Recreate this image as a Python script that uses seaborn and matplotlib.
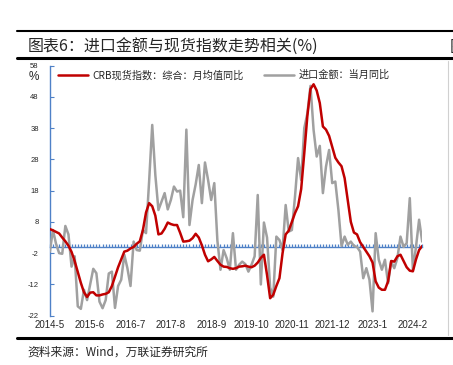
import numpy as np
import pandas as pd
import seaborn as sns
import matplotlib.pyplot as plt

# CRB现货指数：综合：月均值同比 (%), 2014-5 起逐月
crb = [5.7, 5.3, 4.8, 4.3, 3.0, 1.8, 0.4, -1.6, -4.5, -8.0,
       -11.5, -14.5, -16.0, -14.6, -14.5, -15.5, -15.5, -15.2, -15.0, -14.5,
       -12.5, -9.5, -6.5, -4.0, -1.5, -1.2, -0.5, 0.0, 1.0, 1.8,
       5.4, 11.0, 14.0, 13.0, 10.0, 4.0, 4.3, 5.8, 7.8, 7.3,
       7.0, 7.0, 4.5, 1.7, 1.8, 2.0, 2.8, 4.2, 3.0, 0.5,
       -2.5, -4.6, -4.0, -3.2, -4.5, -5.7, -6.3, -6.4, -6.8, -7.0,
       -6.8, -6.3, -6.2, -6.0, -6.3, -6.5, -6.0, -5.0, -3.5, -2.5,
       -9.0, -16.4, -15.3, -12.5, -10.0, -2.0, 4.0, 5.2, 8.0, 10.8,
       13.0, 18.5, 30.0, 42.0, 50.5, 52.0, 50.0, 46.0, 38.5, 37.5,
       35.5, 32.0, 28.5, 27.0, 25.8, 22.0, 15.0, 8.0, 4.6, 4.0,
       1.5, 0.0, -1.5, -3.0, -5.0, -11.0, -13.0, -13.7, -13.7, -11.0,
       -4.5, -4.7, -3.0, -2.5, -4.5, -6.5, -7.6, -7.8, -4.0, -1.0,
       0.3]

# 进口金额：当月同比 (%)
imports = [-1.5, 5.4, 1.0, -2.0, -2.2, 6.7, 4.0, -6.3, -3.0, -19.0,
           -19.8, -13.7, -17.0, -12.0, -7.0, -8.4, -17.5, -19.6, -17.0, -8.5,
           -7.9, -19.5, -12.5, -10.5, -2.5, -6.8, -12.5, 1.7, -1.0, -1.2,
           5.4, 4.4, 21.0, 39.0, 23.0, 11.8, 14.5, 17.2, 12.0, 15.0,
           19.3, 17.7, 18.0, 9.5, 37.5, 7.0, 15.0, 20.0, 26.2, 14.0,
           27.0, 21.4, 15.0, 20.4, 2.0, -7.3, -1.0, -3.6, -7.3, 4.4,
           -7.3, -5.7, -4.7, -5.5, -7.9, -5.7, -3.0, 16.6, -12.0, 7.8,
           3.0, -13.0, -15.9, 3.3, 2.2, -1.0, 13.4, 4.9, 5.4, 16.0,
           28.4, 21.4, 38.0, 42.7, 51.5, 37.4, 28.9, 32.3, 17.2, 25.7,
           31.0, 20.4, 20.9, 11.8, 0.3, 3.3, 0.7, 1.7, 0.3, 0.0,
           -1.5, -10.0, -6.8, -10.5, -20.6, 4.4, -4.1, -7.3, -4.1, -11.6,
           -4.7, -6.8, -3.6, 3.3, 0.0, 1.2, 15.6, -7.3, 0.0, 8.7,
           1.7]

tick_labels = ["2014-5", "2015-6", "2016-7", "2017-8", "2018-9",
               "2019-10", "2020-11", "2021-12", "2023-1", "2024-2"]
y_ticks = [58, 48, 38, 28, 18, 8, -2, -12, -22]

months = pd.period_range("2014-05", periods=len(crb), freq="M")
month_str = [f"{p.year}-{p.month}" for p in months]
df = pd.DataFrame({"x": np.arange(len(crb)), "crb": crb, "imp": imports})

sns.set_style("white")
plt.rcParams['font.family'] = ['Noto Sans CJK SC', 'DejaVu Sans']

fig = plt.figure(figsize=(4.53, 3.65), dpi=100)
ax = fig.add_axes([0.110, 0.135, 0.822, 0.6855])

red = "#C00000"
gray = "#A0A0A0"
blue = "#4F81C7"

sns.lineplot(data=df, x="x", y="imp", color=gray, linewidth=1.8, ax=ax,
             label="进口金额：当月同比", zorder=3)
sns.lineplot(data=df, x="x", y="crb", color=red, linewidth=1.8, ax=ax,
             label="CRB现货指数：综合：月均值同比", zorder=4)

ax.set_xlim(0, len(crb) - 1)
ax.set_ylim(-22, 58)
ax.set_yticks(y_ticks)
ax.set_yticklabels([str(v) for v in y_ticks], family="Liberation Sans", fontsize=5.5)
ax.set_xlabel("")
ax.set_ylabel("")

# 零轴：带逐月刻度的蓝色轴线
for s in ["top", "right"]:
    ax.spines[s].set_visible(False)
ax.spines["left"].set_color(blue)
ax.spines["left"].set_linewidth(1.0)
ax.spines["bottom"].set_position(("data", 0))
ax.spines["bottom"].set_color(blue)
ax.spines["bottom"].set_linewidth(1.0)
ax.set_xticks(df["x"])
ax.tick_params(axis="x", bottom=True, direction="in", length=2.5, width=0.9,
               color=blue, labelbottom=False)
ax.tick_params(axis="y", left=True, direction="in", length=3, width=0.8,
               color=blue, pad=8)

# 日期标签放在底部
sec = ax.secondary_xaxis(0)
sec.set_xticks([month_str.index(t) for t in tick_labels])
sec.set_xticklabels(tick_labels, family="Liberation Sans", fontsize=7)
sec.spines["bottom"].set_visible(False)
sec.tick_params(length=0, pad=3)

ax.text(-0.03, 0.955, "%", transform=ax.transAxes, fontsize=8.5,
        ha="right", va="center", family="Liberation Sans")

h, l = ax.get_legend_handles_labels()
ax.legend([h[1], h[0]], [l[1], l[0]], ncol=2, frameon=False, loc="center left",
          bbox_to_anchor=(0.022, 0.962), fontsize=7.3, handlelength=3.0,
          handletextpad=0.4, columnspacing=2.0, borderpad=0, borderaxespad=0)

# 标题与边框线
fig.text(0.06, 0.870, "图表6：进口金额与现货指数走势相关(%)", fontsize=11.5,
         ha="left", va="center")
fig.text(0.992, 0.870, "图", fontsize=11.5, ha="left", va="center")
fig.add_artist(plt.Line2D([0.037, 1.0], [0.915, 0.915], color="black", lw=1.5))
fig.add_artist(plt.Line2D([0.037, 1.0], [0.840, 0.840], color="black", lw=2.2))
fig.add_artist(plt.Line2D([0.037, 1.0], [0.074, 0.074], color="black", lw=2.2))
fig.add_artist(plt.Line2D([0.989, 0.989], [0.083, 0.832], color="#D0D0D0", lw=0.8))
fig.text(0.06, 0.035, "资料来源：Wind，万联证券研究所", fontsize=8.5,
         ha="left", va="center", style="italic")

fig.savefig("out.png", dpi=100)
